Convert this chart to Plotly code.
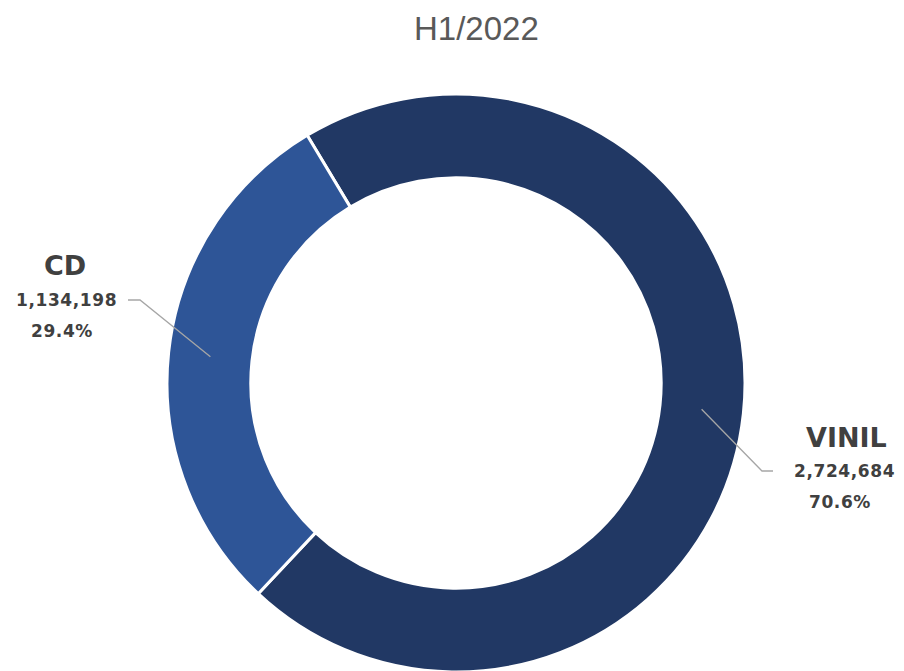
import math
import plotly.graph_objects as go

# ---- data ----
labels = ["VINIL", "CD"]
values = [2724684, 1134198]
percent_labels = ["70.6%", "29.4%"]
colors = ["#213864", "#2E5597"]
title_text = "H1/2022"

W, H = 904, 671
OFF = 8  # page body margin offset
# pie geometry in (screen) pixels
cx, cy, R = 456 - OFF, 383 - OFF, 289
hole = 0.71
rotation = -31

fig = go.Figure()
fig.add_trace(go.Pie(
    labels=labels, values=values, sort=False, direction="clockwise",
    rotation=rotation, hole=hole,
    marker=dict(colors=colors, line=dict(color="white", width=3)),
    textinfo="none", hoverinfo="label+value+percent", showlegend=False,
    domain=dict(x=[(cx - R) / W, (cx + R) / W],
                y=[max(0, (H - cy - R) / H), (H - cy + R) / H]),
))

def px(x):
    return (x - OFF) / W

def py(y):
    return 1 - (y - OFF) / H

total = sum(values)
cum = 0
mids = []
for v in values:
    a = math.radians(rotation + 360 * (cum + v / 2) / total)
    cum += v
    r = R - 42
    mids.append((cx + OFF + r * math.sin(a), cy + OFF - r * math.cos(a)))

shapes = []
annotations = []
label_layout = {
    "VINIL": dict(elbow=(762, 471), end=(773, 471), tx=844, dx_name=2, dx_pct=-4),
    "CD": dict(elbow=(140, 300), end=(128, 300), tx=66, dx_name=-1, dx_pct=-4),
}
txt_color = "#404040"
FONT = "DejaVu Sans"
for i, lab in enumerate(labels):
    L = label_layout[lab]
    sx, sy = mids[i]
    ex, ey = L["elbow"]
    fx, fy = L["end"]
    shapes.append(dict(type="path", xref="paper", yref="paper",
                       path=f"M {px(sx)} {py(sy)} L {px(ex)} {py(ey)} L {px(fx)} {py(fy)}",
                       line=dict(color="#A6A6A6", width=1.3)))
    ny = fy
    annotations.append(dict(x=px(L["tx"] + L["dx_name"]), y=py(ny - 34), xref="paper", yref="paper",
                            text=f"<b>{lab}</b>", showarrow=False,
                            font=dict(family=FONT, size=27, color=txt_color),
                            xanchor="center", yanchor="middle"))
    annotations.append(dict(x=px(L["tx"]), y=py(ny), xref="paper", yref="paper",
                            text=f'<b><span style="letter-spacing:0.6px">{values[i]:,}</span></b>',
                            showarrow=False,
                            font=dict(family=FONT, size=17, color=txt_color),
                            xanchor="center", yanchor="middle"))
    annotations.append(dict(x=px(L["tx"] + L["dx_pct"]), y=py(ny + 31), xref="paper", yref="paper",
                            text=f'<b><span style="letter-spacing:0.6px">{percent_labels[i]}</span></b>',
                            showarrow=False,
                            font=dict(family=FONT, size=17, color=txt_color),
                            xanchor="center", yanchor="middle"))

annotations.append(dict(x=px(476), y=1, xref="paper", yref="paper", text=title_text,
                        showarrow=False, font=dict(family="Liberation Sans", size=33, color="#595959"),
                        xanchor="center", yanchor="top", yshift=0))

fig.update_layout(width=W, height=H, margin=dict(l=0, r=0, t=0, b=0),
                  paper_bgcolor="white", plot_bgcolor="white",
                  shapes=shapes, annotations=annotations)
fig.write_html("out.html")
